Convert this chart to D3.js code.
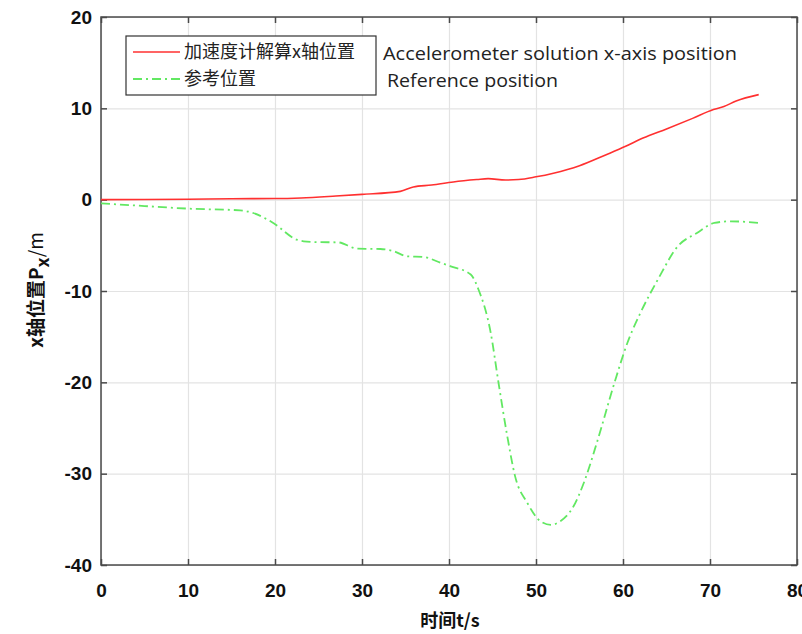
<!DOCTYPE html>
<html><head><meta charset="utf-8">
<script src="https://cdn.jsdelivr.net/npm/d3@7"></script>
<style>
html,body{margin:0;padding:0;background:#fff;}
svg{display:block;}
</style></head>
<body>
<svg id="chart" width="802" height="634"></svg>
<script>
// ---- data ----
const accelT = [0, 5, 10, 15, 20, 23, 27, 30, 34.4, 35.9, 38, 40.5, 43.2, 44.5, 46.5, 48, 50, 52, 55, 58, 60.3, 62.3, 65, 68, 70.4, 71.6, 73, 75.6];
const accelX = [0, 0.02, 0.05, 0.1, 0.12, 0.19, 0.4, 0.58, 0.91, 1.39, 1.6, 1.94, 2.2, 2.3, 2.15, 2.2, 2.5, 2.9, 3.72, 4.9, 5.84, 6.75, 7.75, 8.9, 9.86, 10.2, 10.8, 11.5];
const refT = [0, 5, 10.2, 16, 17.5, 19.8, 22.5, 23.3, 25, 27.2, 29.5, 32.1, 33.5, 35.2, 37.1, 39, 40.2, 42.5, 43.4, 44.8, 45.7, 46.7, 47.6, 49, 50.5, 51.7, 52.8, 54.3, 55.5, 57, 59, 60.5, 62, 64, 66.3, 68.5, 70.5, 72.4, 75.6];
const refX = [-0.4, -0.7, -0.99, -1.17, -1.46, -2.55, -4.38, -4.56, -4.65, -4.67, -5.37, -5.4, -5.6, -6.2, -6.28, -6.9, -7.3, -8.2, -9.86, -14.6, -20.1, -25.9, -30.3, -33.2, -35.2, -35.6, -35.2, -33.6, -31.0, -26.6, -20.1, -15.7, -12.4, -8.76, -5.1, -3.65, -2.55, -2.37, -2.55];
const xTicks = [0, 10, 20, 30, 40, 50, 60, 70, 80];
const yTicks = [20, 10, 0, -10, -20, -30, -40];
const legendLabels = ["加速度计解算x轴位置", "参考位置"];
const englishLabels = ["Accelerometer solution x-axis position", "Reference position"];

// ---- layout ----
const svg = d3.select("#chart");
const L = 101, R = 797, T = 17, B = 565;
const x = d3.scaleLinear().domain([0, 80]).range([L, R]);
const y = d3.scaleLinear().domain([-40, 20]).range([B, T]);
const axisColor = "#4a4a4a";
const tickFont = "'Liberation Sans', Arial, sans-serif";
const fmt = d => String(d);

// grid
svg.append("g").attr("transform", `translate(0,${B})`)
  .call(d3.axisBottom(x).tickValues(xTicks).tickSize(-(B - T)).tickFormat(""))
  .call(g => g.select(".domain").remove())
  .selectAll("line").attr("stroke", "#e3e3e3").attr("stroke-width", 1.2);
svg.append("g").attr("transform", `translate(${L},0)`)
  .call(d3.axisLeft(y).tickValues(yTicks).tickSize(-(R - L)).tickFormat(""))
  .call(g => g.select(".domain").remove())
  .selectAll("line").attr("stroke", "#e3e3e3").attr("stroke-width", 1.2);

// frame
svg.append("rect").attr("x", L).attr("y", T).attr("width", R - L).attr("height", B - T)
  .attr("fill", "none").attr("stroke", axisColor).attr("stroke-width", 1.5);

function styleAxis(g) {
  g.select(".domain").remove();
  g.selectAll(".tick line").attr("stroke", axisColor).attr("stroke-width", 1.5);
  g.selectAll("text").attr("fill", "#111").style("font-family", tickFont)
    .style("font-size", "19px").style("font-weight", "bold");
}
// axes with inward ticks
svg.append("g").attr("transform", `translate(0,${B})`)
  .call(d3.axisBottom(x).tickValues(xTicks).tickSizeInner(-6).tickSizeOuter(0).tickPadding(19).tickFormat(fmt))
  .call(styleAxis);
svg.append("g").attr("transform", `translate(${L},0)`)
  .call(d3.axisLeft(y).tickValues(yTicks).tickSizeInner(-6).tickSizeOuter(0).tickPadding(9).tickFormat(fmt))
  .call(styleAxis);
svg.append("g").attr("transform", `translate(0,${T})`)
  .call(d3.axisTop(x).tickValues(xTicks).tickSizeInner(-6).tickSizeOuter(0).tickFormat(""))
  .call(styleAxis);
svg.append("g").attr("transform", `translate(${R},0)`)
  .call(d3.axisRight(y).tickValues(yTicks).tickSizeInner(-6).tickSizeOuter(0).tickFormat(""))
  .call(styleAxis);

// lines
const line = d3.line().x(d => x(d[0])).y(d => y(d[1])).curve(d3.curveMonotoneX);
const refData = refT.map((t, i) => [t, refX[i]]);
const accData = accelT.map((t, i) => [t, accelX[i]]);
const green = "#62e862", red = "#ff3030";
svg.append("path").datum(refData).attr("d", line).attr("fill", "none")
  .attr("stroke", green).attr("stroke-width", 1.8).attr("stroke-dasharray", "9,4,2,4");
svg.append("path").datum(accData).attr("d", line).attr("fill", "none")
  .attr("stroke", red).attr("stroke-width", 1.6);

// axis labels
svg.append("text").attr("x", 450).attr("y", 627).attr("text-anchor", "middle")
  .style("font-family", "'Noto Sans CJK SC', sans-serif").style("font-size", "18px").style("font-weight", "bold")
  .attr("fill", "#111").text("时间t/s");
const yl = svg.append("text").attr("transform", "translate(43,290) rotate(-90)").attr("text-anchor", "middle")
  .style("font-family", "'Noto Sans CJK SC', sans-serif").style("font-size", "19px").style("font-weight", "bold")
  .attr("fill", "#111");
yl.append("tspan").text("x轴位置P");
yl.append("tspan").attr("dy", 6).style("font-size", "18px").text("x");
yl.append("tspan").attr("dy", -6).style("font-weight", "normal").text("/m");

// legend
svg.append("rect").attr("x", 126).attr("y", 36).attr("width", 250).attr("height", 59)
  .attr("fill", "#fff").attr("stroke", "#333").attr("stroke-width", 1.2);
svg.append("line").attr("x1", 133).attr("x2", 180).attr("y1", 52).attr("y2", 52)
  .attr("stroke", red).attr("stroke-width", 1.6);
svg.append("line").attr("x1", 133).attr("x2", 180).attr("y1", 79).attr("y2", 79)
  .attr("stroke", green).attr("stroke-width", 1.8).attr("stroke-dasharray", "9,4,2,4");
legendLabels.forEach((t, i) => {
  svg.append("text").attr("x", 184).attr("y", 52 + i * 27).attr("dy", "0.35em")
    .style("font-family", "'Noto Sans CJK SC', sans-serif").style("font-size", "18px")
    .attr("fill", "#222").text(t);
});
// english overlay text
svg.append("text").attr("x", 383).attr("y", 60).attr("textLength", 354).attr("lengthAdjust", "spacingAndGlyphs")
  .style("font-family", "'Open Sans', sans-serif").style("font-size", "19px").attr("fill", "#222").text(englishLabels[0]);
svg.append("text").attr("x", 387).attr("y", 87).attr("textLength", 171).attr("lengthAdjust", "spacingAndGlyphs")
  .style("font-family", "'Open Sans', sans-serif").style("font-size", "19px").attr("fill", "#222").text(englishLabels[1]);
</script>
</body></html>
